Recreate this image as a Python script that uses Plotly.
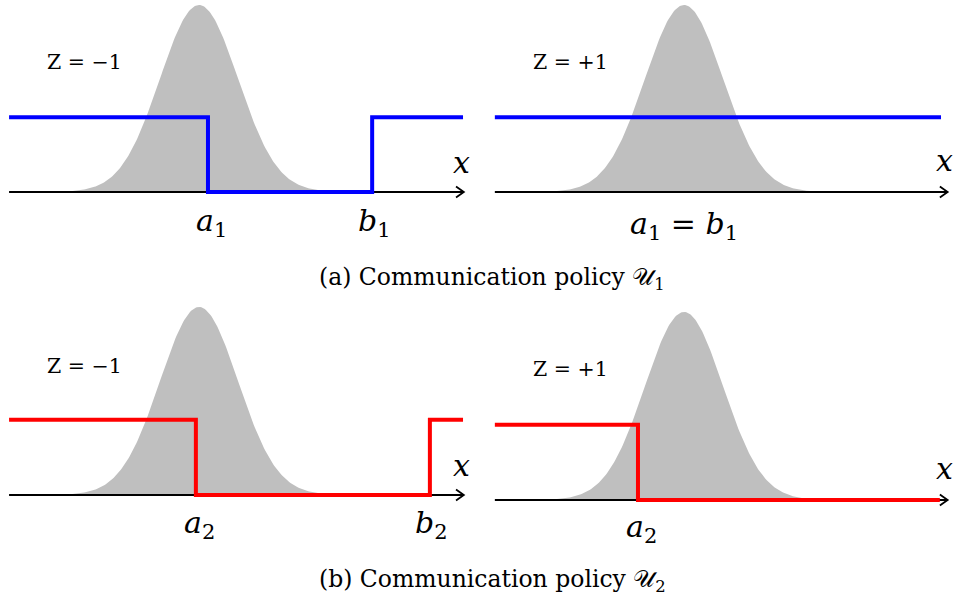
import numpy as np
import plotly.graph_objects as go

# ---- figure data (x in units of the density's standard deviation) ----
level_high = 0.4                      # value of the step policy when it is "on"

# top row: policy U1
u1_neg_x = [-4.87, 0.23, 4.44, 6.77]  # Z = -1 : on, off after a1, on again after b1
u1_neg_y = [level_high, 0.0, level_high, level_high]
u1_pos_x = [-4.85, 6.59]              # Z = +1 : always on (a1 = b1)
u1_pos_y = [level_high, level_high]

# bottom row: policy U2
u2_neg_x = [-4.87, -0.08, 5.92, 6.77]
u2_neg_y = [level_high, 0.0, level_high, level_high]
u2_pos_x = [-4.85, -1.18, 6.56]
u2_pos_y = [level_high, 0.0, 0.0]

axis_ends = {1: (-4.87, 6.77), 2: (-4.85, 6.74), 3: (-4.87, 6.77), 4: (-4.85, 6.74)}

a1, b1 = u1_neg_x[1], u1_neg_x[2]
a2, b2 = u2_neg_x[1], u2_neg_x[2]
a2_pos = u2_pos_x[1]

W, H = 957, 598
SIG_PX = 39.0

# panel geometry: (left, right, top, bottom) in px, centre px, zero px, unit px
panels = {
    1: dict(L=0, R=478, T=0, B=250, cx=199, y0=192, yu=187),
    2: dict(L=479, R=957, T=0, B=250, cx=684, y0=192, yu=187),
    3: dict(L=0, R=478, T=292, B=552, cx=199, y0=495, yu=188),
    4: dict(L=479, R=957, T=292, B=552, cx=684, y0=500, yu=188),
}

serif = "DejaVu Serif"
grey = "#bfbfbf"
blue = "#0000ff"
red = "#ff0000"

fig = go.Figure()
layout = dict(width=W, height=H, margin=dict(l=0, r=0, t=0, b=0),
              paper_bgcolor="white", plot_bgcolor="white", showlegend=False)

def ax_name(i, kind):
    return kind if i == 1 else f"{kind}{i}"

for i, p in panels.items():
    xr = [(p["L"] - p["cx"]) / SIG_PX, (p["R"] - p["cx"]) / SIG_PX]
    yr = [(p["y0"] - p["B"]) / p["yu"], (p["y0"] - p["T"]) / p["yu"]]
    common = dict(visible=False, fixedrange=True, showgrid=False, zeroline=False)
    layout[ax_name(i, "xaxis")] = dict(domain=[p["L"] / W, p["R"] / W], range=xr,
                                       anchor=ax_name(i, "y"), **common)
    layout[ax_name(i, "yaxis")] = dict(domain=[1 - p["B"] / H, 1 - p["T"] / H], range=yr,
                                       anchor=ax_name(i, "x"), **common)

fig.update_layout(**layout)

def refs(i):
    return ("x" if i == 1 else f"x{i}"), ("y" if i == 1 else f"y{i}")

steps = {1: (u1_neg_x, u1_neg_y, blue), 2: (u1_pos_x, u1_pos_y, blue),
         3: (u2_neg_x, u2_neg_y, red), 4: (u2_pos_x, u2_pos_y, red)}

for i in panels:
    xa, ya = refs(i)
    x0, x1 = axis_ends[i]
    # standard normal density, scaled to unit peak
    xs = np.linspace(x0, x1, 400)
    dens = np.exp(-0.5 * xs ** 2)
    fig.add_trace(go.Scatter(x=xs, y=dens, mode="lines", line=dict(width=0, color=grey),
                             fill="tozeroy", fillcolor=grey, xaxis=xa, yaxis=ya,
                             hoverinfo="skip"))
    # horizontal axis
    fig.add_trace(go.Scatter(x=[x0, x1], y=[0, 0], mode="lines",
                             line=dict(color="black", width=1.8), xaxis=xa, yaxis=ya,
                             hoverinfo="skip"))
    # step policy
    sx, sy, col = steps[i]
    fig.add_trace(go.Scatter(x=sx, y=sy, mode="lines", line=dict(color=col, width=4, shape="hv"),
                             xaxis=xa, yaxis=ya))
    # arrow tip of the axis
    yu = panels[i]["yu"]
    dx, dy = 7 / SIG_PX, 5.5 / yu
    fig.add_trace(go.Scatter(x=[x1 - dx, x1 + 0.02, x1 - dx], y=[dy, 0, -dy], mode="lines",
                             line=dict(color="black", width=1.8), xaxis=xa, yaxis=ya,
                             hoverinfo="skip"))

def label(i, x, y, text, size):
    xa, ya = refs(i)
    fig.add_annotation(x=x, y=y, xref=xa, yref=ya, text=text, showarrow=False,
                       font=dict(family=serif, size=size, color="black"),
                       xanchor="center", yanchor="middle")

big = 30
# axis names
for i in panels:
    yu = panels[i]["yu"]
    x1 = axis_ends[i][1]
    shift = 30 if i in (1, 3) else 32
    label(i, x1 - 0.05, shift / yu, "<i>x</i>", big)

# threshold labels
label(1, a1 + 0.08, -30 / 187, "<i>a</i><sub>1</sub>", big)
label(1, b1 + 0.05, -30 / 187, "<i>b</i><sub>1</sub>", big)
label(2, 0.0, -33 / 187, "<i>a</i><sub>1</sub> = <i>b</i><sub>1</sub>", big)
label(3, a2 + 0.08, -29 / 188, "<i>a</i><sub>2</sub>", big)
label(3, b2 + 0.05, -29 / 188, "<i>b</i><sub>2</sub>", big)
label(4, a2_pos + 0.08, -28 / 188, "<i>a</i><sub>2</sub>", big)

# state labels
zs = 20.5
label(1, -2.93, (192 - 62) / 187, "Z = −1", zs)
label(2, -2.92, (192 - 62) / 187, "Z = +1", zs)
label(3, -2.93, (495 - 366) / 188, "Z = −1", zs)
label(4, -2.92, (500 - 369) / 188, "Z = +1", zs)

# sub-captions
for ytxt, txt in [(278, "(a) Communication policy 𝒰<sub>1</sub>"),
                  (580, "(b) Communication policy 𝒰<sub>2</sub>")]:
    fig.add_annotation(x=492 / W, y=1 - ytxt / H, xref="paper", yref="paper", text=txt,
                       showarrow=False, font=dict(family=serif, size=23.5, color="black"),
                       xanchor="center", yanchor="middle")

fig.write_html("out.html")
